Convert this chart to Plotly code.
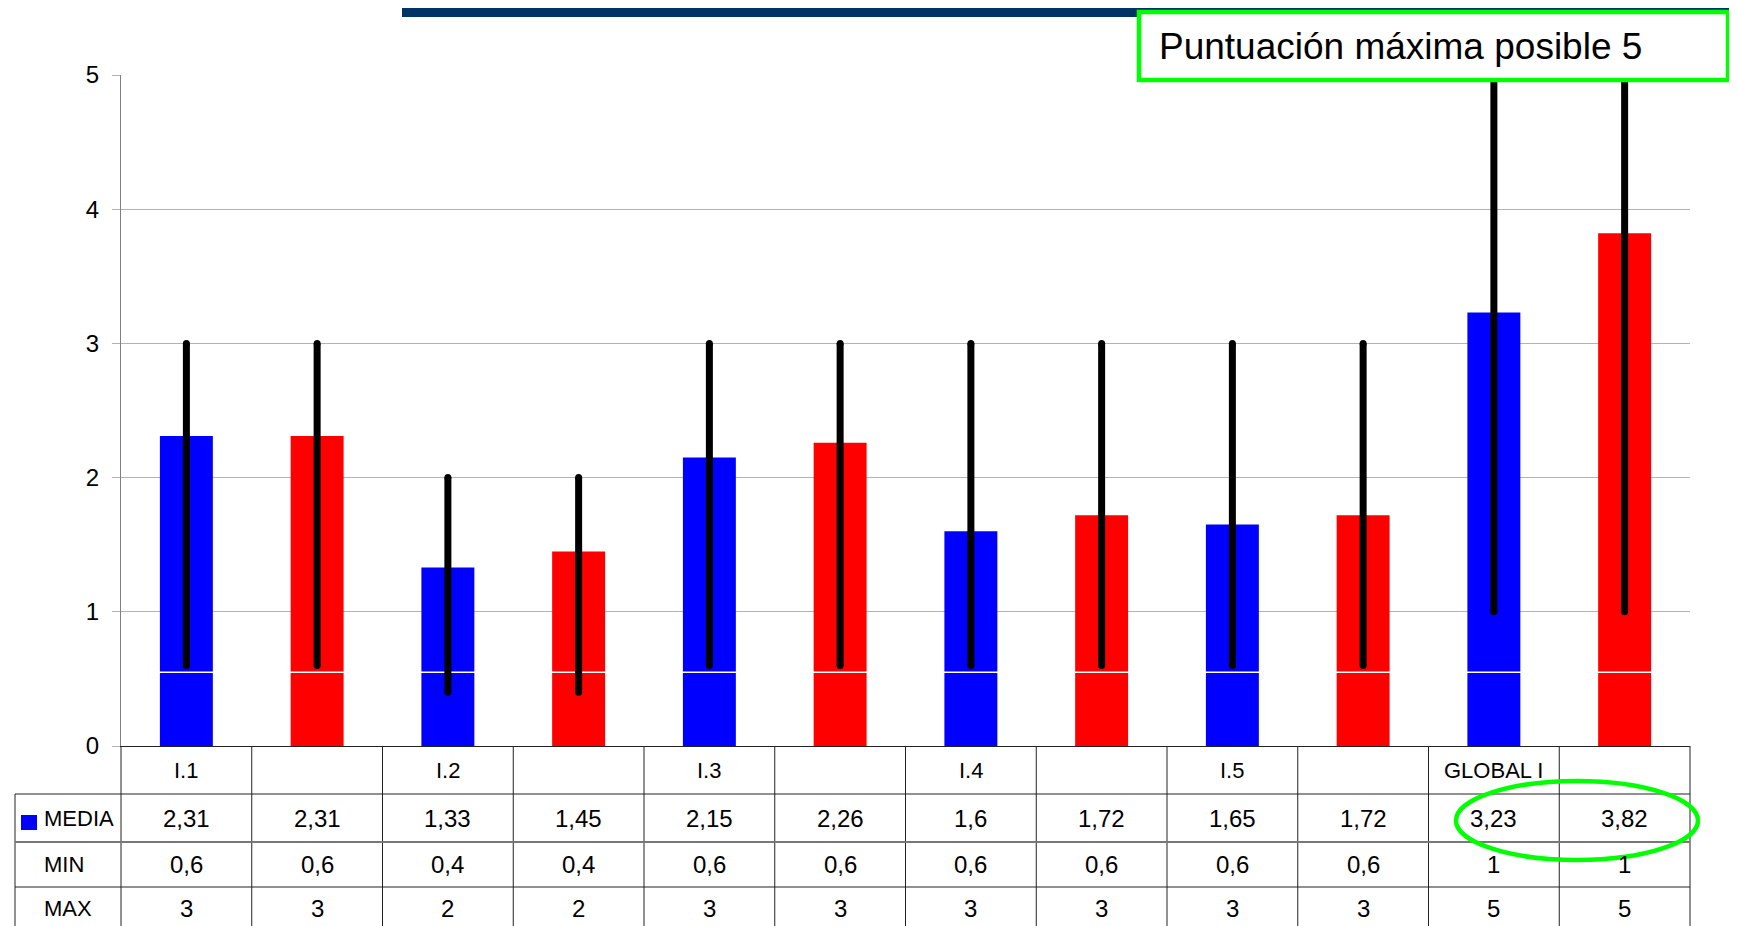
import plotly.graph_objects as go

# ---- data ----
groups = ["I.1", "", "I.2", "", "I.3", "", "I.4", "", "I.5", "", "GLOBAL I", ""]
media = [2.31, 2.31, 1.33, 1.45, 2.15, 2.26, 1.6, 1.72, 1.65, 1.72, 3.23, 3.82]
min_vals = [0.6, 0.6, 0.4, 0.4, 0.6, 0.6, 0.6, 0.6, 0.6, 0.6, 1, 1]
max_vals = [3, 3, 2, 2, 3, 3, 3, 3, 3, 3, 5, 5]
row_labels = ["MEDIA", "MIN", "MAX"]
bar_colors = ["#0000FF", "#FF0000"] * 6
white_rule = 0.55
title_text = "Puntuación máxima posible 5"

# ---- geometry: screen pixels (page body has an 8px margin) ----
OFF = 8
SW, SH = 1737, 926
W, H = SW - OFF, SH - OFF
plot_left, plot_right, plot_top, plot_bottom = 121, 1690, 75, 746  # screen px
ML = plot_left - OFF
MR = W - (plot_right - OFF)
MT = plot_top - OFF
MB = H - (plot_bottom - OFF)
PW = W - ML - MR
PH = H - MT - MB
n = len(media)
xs = list(range(n))


def px_x(sx):
    return (sx - OFF - ML) / PW


def px_y(sy):
    return (H - MB - (sy - OFF)) / PH


def cat_x(c):
    return (c + 0.5) / n


def fmt(v):
    return f"{v:g}".replace(".", ",")


FONT = "Liberation Sans, Arial, sans-serif"

fig = go.Figure()
fig.add_trace(go.Bar(x=xs, y=media, marker=dict(color=bar_colors, line=dict(width=0)),
                     width=0.405, showlegend=False, hoverinfo="y"))
# white rule inside the bars
fig.add_trace(go.Scatter(x=[-0.5, n - 0.5], y=[white_rule, white_rule], mode="lines",
                         line=dict(color="white", width=1.5), showlegend=False, hoverinfo="skip"))
# high-low lines (round ends via markers)
hx, hy = [], []
for i in xs:
    hx += [i, i, None]
    hy += [min_vals[i], max_vals[i], None]
fig.add_trace(go.Scatter(x=hx, y=hy, mode="lines+markers", line=dict(color="black", width=7),
                         marker=dict(color="black", size=7, line=dict(width=0)),
                         showlegend=False, hoverinfo="skip", cliponaxis=False))

shapes = []
annotations = []

line_dark = dict(color="#222222", width=1)
left_px = 15
# vertical lines at category boundaries
for k in range(n + 1):
    shapes.append(dict(type="line", xref="paper", yref="paper", x0=k / n, x1=k / n,
                       y0=px_y(plot_bottom), y1=px_y(SH), line=line_dark))
# label column left edge
shapes.append(dict(type="line", xref="paper", yref="paper", x0=px_x(left_px), x1=px_x(left_px),
                   y0=px_y(794), y1=px_y(SH), line=line_dark))
# horizontal lines
shapes.append(dict(type="line", xref="paper", yref="paper", x0=px_x(left_px), x1=1,
                   y0=px_y(794), y1=px_y(794), line=line_dark))
shapes.append(dict(type="line", xref="paper", yref="paper", x0=px_x(left_px), x1=1,
                   y0=px_y(842), y1=px_y(842), line=dict(color="#777777", width=2)))
shapes.append(dict(type="line", xref="paper", yref="paper", x0=px_x(left_px), x1=1,
                   y0=px_y(887), y1=px_y(887), line=line_dark))

# header labels
for i, g in enumerate(groups):
    if g:
        annotations.append(dict(x=cat_x(i), y=px_y(770), xref="paper", yref="paper", text=g,
                                showarrow=False, font=dict(family=FONT, size=22, color="black"),
                                xanchor="center", yanchor="middle"))
# data rows
row_centers = [818, 864, 908]
for r, vals in enumerate([media, min_vals, max_vals]):
    for i, v in enumerate(vals):
        annotations.append(dict(x=cat_x(i), y=px_y(row_centers[r]), xref="paper", yref="paper",
                                text=fmt(v), showarrow=False,
                                font=dict(family=FONT, size=24, color="black"),
                                xanchor="center", yanchor="middle"))
    annotations.append(dict(x=px_x(42), y=px_y(row_centers[r]), xref="paper", yref="paper",
                            text=row_labels[r], showarrow=False,
                            font=dict(family=FONT, size=22, color="black"),
                            xanchor="left", yanchor="middle"))
# legend key
shapes.append(dict(type="rect", xref="paper", yref="paper", x0=px_x(21), x1=px_x(37),
                   y0=px_y(830), y1=px_y(815), fillcolor="#0000FF", line=dict(width=0)))

# navy bar on top
shapes.append(dict(type="rect", xref="paper", yref="paper", x0=px_x(402), x1=px_x(SW),
                   y0=px_y(17), y1=px_y(7), fillcolor="#003366", line=dict(width=0)))
# title box
shapes.append(dict(type="rect", xref="paper", yref="paper", x0=px_x(1139), x1=px_x(1728),
                   y0=px_y(80), y1=px_y(12), fillcolor="white",
                   line=dict(color="#00FF00", width=4.5)))
annotations.append(dict(x=px_x(1157), y=px_y(46), xref="paper", yref="paper", text=title_text,
                        showarrow=False, font=dict(family=FONT, size=37, color="black"),
                        xanchor="left", yanchor="middle"))
# highlight ellipse
shapes.append(dict(type="circle", xref="paper", yref="paper", x0=px_x(1456), x1=px_x(1698),
                   y0=px_y(860), y1=px_y(781), line=dict(color="#00FF00", width=4.5)))

fig.update_layout(
    width=W, height=H,
    margin=dict(l=ML, r=MR, t=MT, b=MB, pad=0),
    plot_bgcolor="white", paper_bgcolor="white",
    shapes=shapes, annotations=annotations,
    xaxis=dict(range=[-0.5, n - 0.5], showgrid=False, zeroline=False, showticklabels=False,
               showline=True, linecolor="#222222", linewidth=1, ticks=""),
    yaxis=dict(range=[0, 5], dtick=1, showgrid=True, gridcolor="#b3b3b3", gridwidth=1,
               zeroline=False, showline=True, linecolor="#808080", linewidth=1,
               ticks="outside", ticklen=8, tickcolor="#b3b3b3",
               tickfont=dict(family=FONT, size=24, color="black"), ticklabelstandoff=8),
    font=dict(family=FONT),
)

fig.write_html("out.html")
